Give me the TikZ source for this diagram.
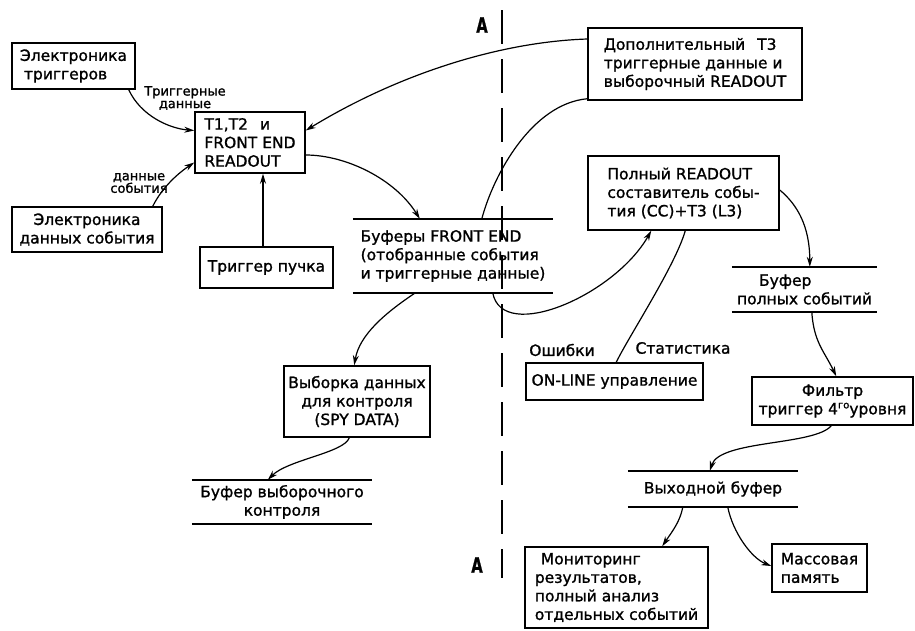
\documentclass[tikz,border=0pt]{standalone}
\usepackage{fontspec}
\setmainfont{DejaVu Sans}[FakeBold=1.2]
\usetikzlibrary{arrows.meta,calc}
\begin{document}
\begin{tikzpicture}[x=1pt,y=-1pt,
  every node/.style={font=\fontsize{15.5}{18.5}\selectfont, inner sep=1.5pt},
  box/.style 2 args={draw, line width=1.5pt, minimum width=#1, minimum height=#2, align=center},
  bufn/.style 2 args={minimum width=#1, minimum height=#2, inner sep=0pt, align=center},
  bufline/.style={line width=1.5pt},
  lab/.style={font=\fontsize{13}{12.5}\selectfont, align=center, inner sep=0pt},
  alab/.style={font=\fontsize{21}{21}\selectfont\bfseries, inner sep=0pt},
  conn/.style={line width=1.2pt},
  arr/.style={line width=1.2pt, -{Stealth[length=10pt,width=6pt]}},
  dashline/.style={line width=1.4pt, dash pattern=on 34pt off 15pt}
]
\fill[white] (0,0) rectangle (915,630);
\path[use as bounding box] (0,0) rectangle (915,630);

% boxes
\node[box={123}{46}, align=left] (etrig) at (73.5,66) {Электроника\\\hspace{4pt}триггеров};
\node[box={110}{61}, align=left] (t12) at (250,142.5) {T1,T2\hspace{12pt}и\\FRONT END\\READOUT};
\node[box={150}{45}] (edata) at (87,229.5) {Электроника\\данных события};
\node[box={133}{41}] (tpuch) at (266.5,267.5) {Триггер пучка};
\node[box={214}{72}, align=left] (dop) at (695,64) {Дополнительный\hspace{12pt}T3\\триггерные данные и\\выборочный READOUT};
\node[box={191}{74}, align=left] (poln) at (683.5,193) {Полный READOUT\\составитель собы-\\тия (СС)+Т3 (L3)};
\node[box={177}{37}] (online) at (614.5,381.5) {ON-LINE управление};
\node[box={161}{48}] (filtr) at (832.5,401) {Фильтр\\триггер 4\raisebox{0.7ex}{\fontsize{10}{10}\selectfont го}уровня};
\node[box={146}{71}] (vyb) at (357,401.5) {Выборка данных\\для контроля\\(SPY DATA)};
\node[box={183}{81}, align=left] (monit) at (616.5,587.5) {\hspace{6pt}Мониторинг\\результатов,\\полный анализ\\отдельных событий};
\node[box={95}{48}, align=left] (mass) at (819.5,568) {Массовая\\память};

% buffers
\node[bufn={200}{74}, align=left] (bfe) at (453,256) {Буферы FRONT END\\(отобранные события\\и триггерные данные)};
\node[bufn={145}{45}, align=left] (bpoln) at (804.5,289.5) {\hspace{22pt}Буфер\\полных событий};
\node[bufn={170}{36}] (bvyh) at (713,489) {Выходной буфер};
\node[bufn={180}{44}] (bvyb) at (282,502) {Буфер выборочного\\контроля};
\foreach \b in {bfe,bpoln,bvyh,bvyb}{
  \draw[bufline] (\b.north west) -- (\b.north east);
  \draw[bufline] (\b.south west) -- (\b.south east);
}

% labels
\node[lab] (ltrig) at (185,98) {Триггерные\\данные};
\node[lab] (ldata) at (139,183) {данные\\события};
\node (lerr) at (562,350) {Ошибки};
\node (lstat) at (683,348) {Статистика};

% A-A section line
\node[alab] (atop) at (482,25) {\scalebox{0.7}[1]{A}};
\node[alab] (abot) at (477,565) {\scalebox{0.7}[1]{A}};
\coordinate (dtop) at (502,10);
\coordinate (dbot) at (502,578);
\draw[dashline] (dtop) -- (dbot);

% connectors
\draw[arr] ($(etrig.south east)+(-7,0)$) .. controls +(12,26) and +(-25,-2) .. ($(t12.west)+(0,-12)$);
\draw[arr] ($(edata.north east)+(-10,0)$) .. controls +(10,-20) and +(-15,10) .. ($(t12.west)+(0,20)$);
\draw[arr] ($(tpuch.north)+(-3.5,0)$) -- ($(t12.south)+(13,0)$);
\draw[arr] ($(dop.west)+(0,-25)$) .. controls +(-90,3) and +(90,-55) .. ($(t12.east)+(0,-12)$);
\draw[arr] ($(t12.east)+(0,12.5)$) .. controls +(40,0) and +(-25,-40) .. ($(bfe.north west)+(67,0)$);
\draw[conn] ($(bfe.north west)+(129,0)$) .. controls +(12,-45) and +(-55,5) .. ($(dop.south west)+(0,-2)$);
\draw[arr] ($(bfe.south west)+(140,0)$) .. controls +(10,50) and +(-37,65) .. ($(poln.south west)+(64,0)$);
\draw[conn] ($(online.north west)+(91,0)$) .. controls +(12,-25) and +(-10,35) .. ($(poln.south west)+(98,0)$);
\draw[arr] ($(poln.east)+(0,-3)$) .. controls +(18,15) and +(0,-40) .. ($(bpoln.north west)+(78,0)$);
\draw[arr] ($(bpoln.south west)+(80,0)$) .. controls +(2,30) and +(-12,-25) .. ($(filtr.north west)+(85,0)$);
\draw[arr] ($(filtr.south west)+(80,0)$) .. controls +(-17,20) and +(10,-31) .. ($(bvyh.north west)+(82,0)$);
\draw[arr] ($(bvyh.south west)+(55,0)$) .. controls +(-3,15) and +(10,-15) .. ($(monit.north west)+(138,0)$);
\draw[arr] ($(bvyh.south west)+(100,0)$) .. controls +(5,25) and +(-20,-8) .. ($(mass.west)+(0,-2)$);
\draw[arr] ($(bfe.south west)+(62,0)$) .. controls +(-30,20) and +(5,-30) .. ($(vyb.north west)+(71,0)$);
\draw[arr] ($(vyb.south west)+(66,0)$) .. controls +(-5,15) and +(20,-20) .. ($(bvyb.north west)+(76,0)$);
\end{tikzpicture}
\end{document}
